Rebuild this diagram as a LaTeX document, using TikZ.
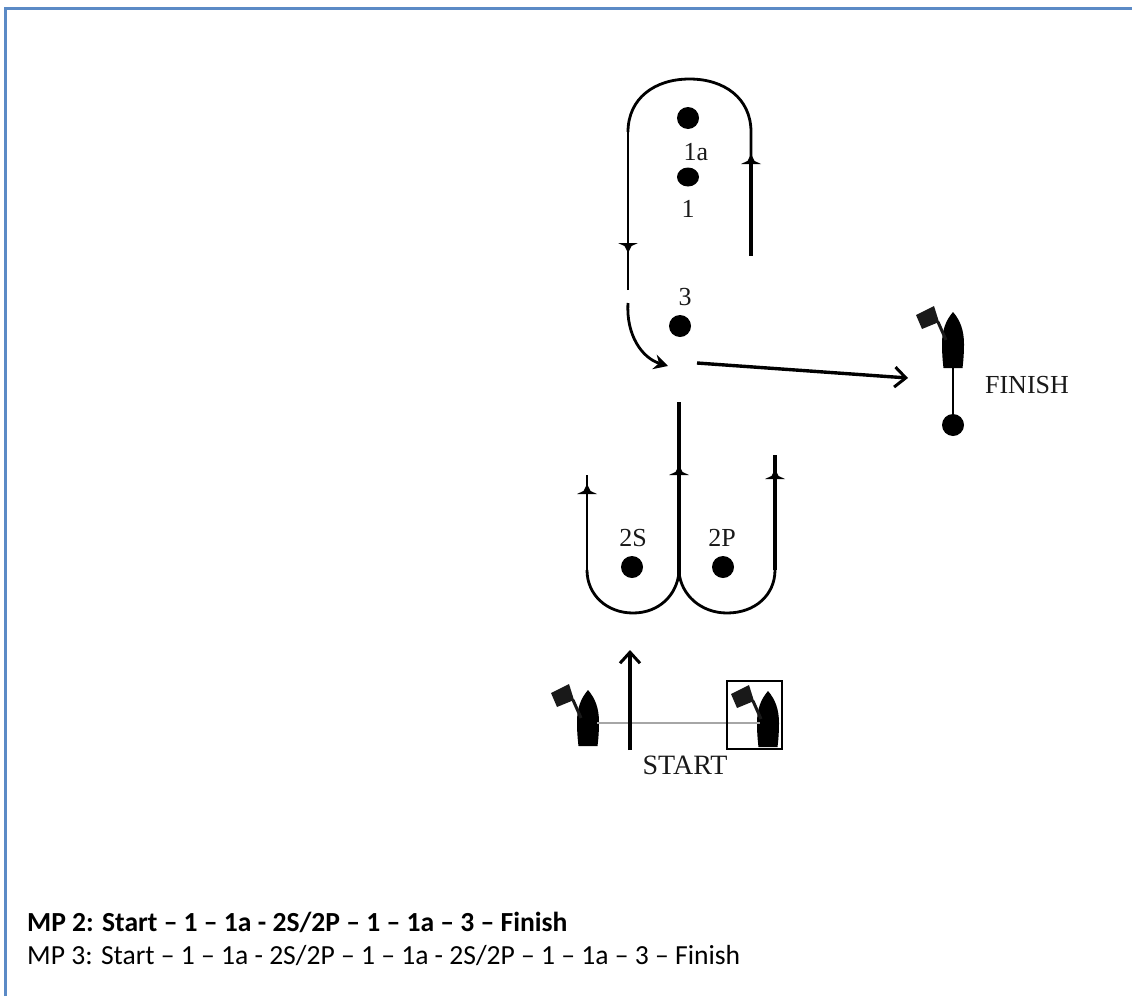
\documentclass[tikz,border=0pt]{standalone}
\usepackage{fontspec}
\setmainfont{Liberation Serif}
\newfontfamily\calibrifont{Carlito}
\usetikzlibrary{shapes.geometric,arrows.meta}
\definecolor{framecol}{HTML}{5B8AC6}
\tikzset{
  x=1pt,y=-1pt,
  buoy/.style={shape=circle,fill=black,inner sep=0pt,minimum size=#1},
  buoy/.default=22pt,
  maplabel/.style={inner sep=0pt,font=\fontsize{26}{26}\selectfont,text=black!90},
  course/.style={line width=2.8pt,black},
  coursethin/.style={line width=2.2pt,black},
  coursethick/.style={line width=3.4pt,black},
  openhead/.style={-{Straight Barb[length=11pt,width=20pt,line width=3pt]}},
  legend/.style={anchor=west,inner sep=0pt,font=\calibrifont\fontsize{27.6}{28}\selectfont},
  pics/tick/.style={code={\fill[black] (-10,2) -- (10,2) -- (3.5,-1) -- (0,-8) -- (-3.5,-1) -- cycle;}},
  pics/boat/.style={code={
    \fill[black] (0,-28) .. controls (7,-20) and (11,-10) .. (11,4)
       .. controls (11,12) and (10.5,20) .. (9.5,28) -- (-9.5,28)
       .. controls (-10.5,20) and (-11,12) .. (-11,4)
       .. controls (-11,-10) and (-7,-20) .. (0,-28) -- cycle;
    \draw[line width=3pt,black!90] (-15,-18) -- (-7,0);
    \fill[black!90] (-37,-25) -- (-19,-34) -- (-14,-18) -- (-31,-11) -- cycle;
  }}
}
\begin{document}
\begin{tikzpicture}
\useasboundingbox (0,0) rectangle (1132,996);
\draw[framecol,line width=3pt] (5,996) -- (5,8) -- (1132,8);

% upper buoys
\node[buoy] (m1a) at (688,118) {};
\node[buoy,shape=ellipse,minimum width=22pt,minimum height=19pt] (m1) at (688,177) {};
\node[buoy] (m3) at (680,326) {};
\node[maplabel] (l1a) at (696,152) {1a};
\node[maplabel] (l1) at (688,209) {1};
\node[maplabel] (l3) at (685,297) {3};

% upper loop
\coordinate (loopL) at (628,290);
\coordinate (loopLt) at (628,132);
\coordinate (loopRt) at (751,132);
\coordinate (loopRm) at (751,162);
\coordinate (loopR) at (751,256);
\draw[coursethin] (loopL) -- (loopLt);
\draw[course] (loopLt)
  .. controls (628,98) and (655,79) .. (689.5,79)
  .. controls (724,79) and (751,98) .. (loopRt) -- (loopRm);
\draw[coursethick] (loopRm) -- (loopR);
\pic at (751,162) {tick};
\pic[yscale=-1] at (628,245) {tick};

% turn at 3 and run to the finish
\coordinate (curveS) at (628,303);
\coordinate (curveE) at (668,366);
\draw[course,-{Stealth[length=14pt,width=15pt]}] (curveS) .. controls (626,335) and (642,358) .. (curveE);
\coordinate (runS) at (697,363);
\coordinate (runE) at (908,378);
\draw[coursethick,openhead] (runS) -- (runE);

% finish
\pic (finishboat) at (953,340) {boat};
\node[buoy] (finishbuoy) at (953,425) {};
\coordinate (finishhull) at (953,367);
\draw[line width=1.8pt,black] (finishhull) -- (finishbuoy);
\node[maplabel] (finishlabel) at (1027,385) {FINISH};

% lower buoys
\node[buoy] (m2s) at (632,567) {};
\node[buoy] (m2p) at (723,567) {};
\node[maplabel] (l2s) at (633,538) {2S};
\node[maplabel] (l2p) at (722,538) {2P};

% lower gate
\coordinate (gateLt) at (587,475);
\coordinate (gateLb) at (587,570);
\coordinate (gateCt) at (679,402);
\coordinate (gateCb) at (679,575);
\coordinate (gateRt) at (775,455);
\coordinate (gateRb) at (775,570);
\draw[coursethin] (gateLt) -- (gateLb);
\draw[course] (gateLb) .. controls (587,595) and (607,613) .. (633,613)
  .. controls (659,613) and (677,595) .. (679,572);
\draw[course] (gateRb) .. controls (775,595) and (755,613) .. (727,613)
  .. controls (701,613) and (681,595) .. (679,572);
\draw[coursethick] (gateCt) -- (gateCb);
\draw[coursethick] (gateRt) -- (gateRb);
\pic at (587,492) {tick};
\pic at (679,473) {tick};
\pic at (775,477) {tick};

% start line
\pic (startL) at (588,718) {boat};
\pic (startR) at (768,719) {boat};
\coordinate (lineL) at (597,723);
\coordinate (lineR) at (760,723);
\draw[line width=1.8pt,black!35] (lineL) -- (lineR);
\coordinate (startS) at (630,750);
\coordinate (startE) at (630,650);
\draw[line width=3.6pt,black,openhead] (startS) -- (startE);
\node[draw=black,line width=1.6pt,inner sep=0pt,minimum width=55pt,minimum height=68pt] (committee) at (754.5,715) {};
\node[maplabel,font=\fontsize{28}{28}\selectfont] (startlabel) at (685,765) {START};

% legend
\node[legend,font=\calibrifont\bfseries\fontsize{27.6}{28}\selectfont] (mp2) at (27,922) {MP 2: Start – 1 – 1a - 2S/2P – 1 – 1a – 3 – Finish};
\node[legend] (mp3) at (27,955) {MP 3: Start – 1 – 1a - 2S/2P – 1 – 1a - 2S/2P – 1 – 1a – 3 – Finish};
\end{tikzpicture}
\end{document}
